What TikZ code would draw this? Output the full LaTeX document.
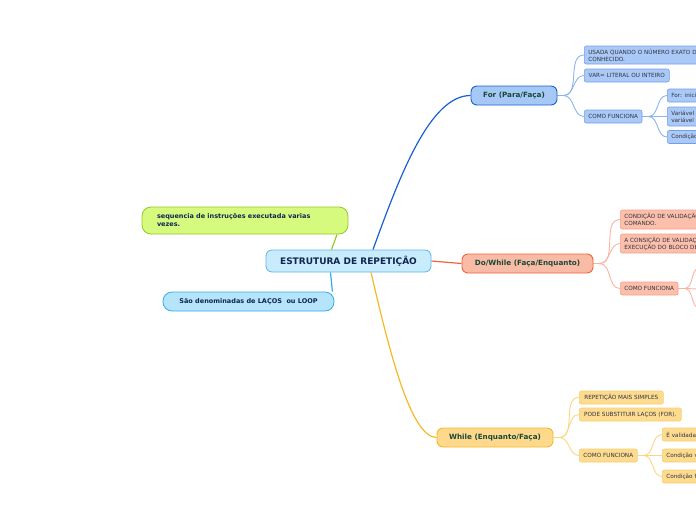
\documentclass[tikz,border=0pt]{standalone}
\usepackage{fontspec}
\setmainfont{DejaVu Sans}
\usetikzlibrary{positioning,backgrounds}
\definecolor{azulRaiz}{RGB}{200,236,252}
\definecolor{azulRaizB}{RGB}{90,180,235}
\definecolor{azulEscuro}{RGB}{16,38,80}
\definecolor{verdeTexto}{RGB}{24,72,56}
\definecolor{cinzaTexto}{RGB}{50,52,66}
\definecolor{verdeNota}{RGB}{214,250,126}
\definecolor{verdeNotaB}{RGB}{150,200,40}
\definecolor{azulNota}{RGB}{182,228,251}
\definecolor{azulNotaB}{RGB}{50,172,236}
\definecolor{azulFor}{RGB}{166,200,247}
\definecolor{azulForB}{RGB}{24,96,210}
\definecolor{azulFolha}{RGB}{170,201,246}
\definecolor{azulFolhaB}{RGB}{112,160,235}
\definecolor{azulGalho}{RGB}{140,180,240}
\definecolor{laranjaDo}{RGB}{249,187,166}
\definecolor{laranjaDoB}{RGB}{240,100,60}
\definecolor{laranjaFolha}{RGB}{251,191,171}
\definecolor{laranjaFolhaB}{RGB}{248,160,135}
\definecolor{laranjaGalho}{RGB}{250,180,160}
\definecolor{amareloWh}{RGB}{254,217,140}
\definecolor{amareloWhB}{RGB}{246,184,40}
\definecolor{amareloFolha}{RGB}{253,219,143}
\definecolor{amareloFolhaB}{RGB}{250,205,110}
\definecolor{amareloGalho}{RGB}{252,213,130}

\begin{document}
\begin{tikzpicture}[x=1pt,y=-1pt,
  raiz/.style={rounded corners=6pt, minimum width=165pt, minimum height=22pt,
               fill=azulRaiz, draw=azulRaizB, line width=0.8pt,
               font=\fontsize{9}{10}\selectfont\bfseries, text=azulEscuro},
  nota/.style={rounded corners=9pt, line width=0.8pt, align=left,
               font=\fontsize{6.5}{8}\selectfont\bfseries, text=azulEscuro},
  ramo/.style={rounded corners=6pt, minimum height=19pt, line width=0.9pt,
               font=\fontsize{7.2}{8}\selectfont\bfseries, text=verdeTexto},
  folha/.style={rounded corners=2pt, anchor=west, align=left, inner xsep=4pt,
                inner ysep=1pt, line width=0.6pt, text=cinzaTexto,
                font=\fontsize{5.7}{7}\selectfont},
  folhaFor/.style={folha, fill=azulFolha, draw=azulFolhaB},
  folhaDo/.style={folha, fill=laranjaFolha, draw=laranjaFolhaB},
  folhaWh/.style={folha, fill=amareloFolha, draw=amareloFolhaB},
  galho/.style={line width=0.9pt}]

  \useasboundingbox (0,0) rectangle (696,520);

  \node[raiz] (RAIZ) at (348.5,261) {ESTRUTURA DE REPETIÇÂO};

  \node[nota,fill=verdeNota,draw=verdeNotaB,minimum width=206pt,
        minimum height=27pt,text width=176pt,inner xsep=15pt]
    (SEQ) at (245,220.5) {sequencia de instruções executada varias\\vezes.};
  \node[nota,fill=azulNota,draw=azulNotaB,minimum width=171pt,
        minimum height=19pt,align=center]
    (LACO) at (248.5,301.5) {São denominadas de LAÇOS\ \ ou LOOP};

  \node[ramo,fill=azulFor,draw=azulForB,minimum width=86pt]
    (FOR) at (514,95.5) {For (Para/Faça)};
  \node[ramo,fill=laranjaDo,draw=laranjaDoB,minimum width=131pt]
    (DO) at (527.5,263.5) {Do/While (Faça/Enquanto)};
  \node[ramo,fill=amareloWh,draw=amareloWhB,minimum width=116pt]
    (WHILE) at (495,437.5) {While (Enquanto/Faça)};

  \node[folhaFor,text width=132pt,minimum height=18pt] (F1) at (584,55)
    {USADA QUANDO O NÚMERO EXATO DE\\CONHECIDO.};
  \node[folhaFor,minimum width=85pt,minimum height=13pt] (F2) at (584,75.5)
    {VAR= LITERAL OU INTEIRO};
  \node[folhaFor,minimum width=57pt,minimum height=13pt] (F3) at (584,116.5)
    {COMO FUNCIONA};
  \node[folhaFor,text width=52pt,minimum height=13pt] (F31) at (667,95.5)
    {For: inici};
  \node[folhaFor,text width=52pt,minimum height=19pt] (F32) at (667,116.5)
    {Variável\\variável};
  \node[folhaFor,text width=52pt,minimum height=13pt] (F33) at (667,137)
    {Condição};

  \node[folhaDo,text width=102pt,minimum height=19pt] (D1) at (620,219.5)
    {CONDIÇÃO DE VALIDAÇÃO\\COMANDO.};
  \node[folhaDo,text width=102pt,minimum height=19pt] (D2) at (620,243.5)
    {A CONSIÇÃO DE VALIDAÇÃO\\EXECUÇÃO DO BLOCO DE};
  \node[folhaDo,minimum width=57pt,minimum height=13pt] (D3) at (620,288.5)
    {COMO FUNCIONA};
  \coordinate (D31) at (700,268);
  \coordinate (D32) at (700,289);
  \coordinate (D33) at (700,308);

  \node[folhaWh,minimum width=84pt,minimum height=13pt] (W1) at (579,397.5)
    {REPETIÇÃO MAIS SIMPLES};
  \node[folhaWh,minimum width=102pt,minimum height=13pt] (W2) at (579,414.5)
    {PODE SUBSTITUIR LAÇOS (FOR).};
  \node[folhaWh,minimum width=58pt,minimum height=13pt] (W3) at (579,455.5)
    {COMO FUNCIONA};
  \node[folhaWh,text width=52pt,minimum height=13pt] (W31) at (662,434.5)
    {É validada};
  \node[folhaWh,text width=52pt,minimum height=13pt] (W32) at (662,455.5)
    {Condição v};
  \node[folhaWh,text width=52pt,minimum height=13pt] (W33) at (662,476.5)
    {Condição f};

  \begin{scope}[on background layer]
    \draw[line width=1.2pt,verdeNotaB] ([xshift=-17pt]RAIZ.north)--([xshift=92pt]SEQ.south);
    \draw[line width=1.2pt,azulNotaB] ([xshift=-18pt]RAIZ.south)--([xshift=-2pt]LACO.north east);
    \draw[line width=1.2pt,azulForB] ([xshift=24.5pt]RAIZ.north)
      .. controls (400,175) and (430,95.5) .. (FOR.west);
    \draw[line width=1.2pt,laranjaDoB] (RAIZ.east)--(DO.west);
    \draw[line width=1.2pt,amareloWhB] ([xshift=22.5pt]RAIZ.south)
      .. controls (388,345) and (410,437.5) .. (WHILE.west);

    \foreach \f in {F1,F2,F3}
      \draw[galho,azulGalho] (FOR.east)--++(6,0) to[out=0,in=180] (\f.west);
    \foreach \f in {F31,F32,F33}
      \draw[galho,azulGalho] (F3.east)--++(6,0) to[out=0,in=180] (\f.west);
    \foreach \f in {D1,D2,D3}
      \draw[galho,laranjaGalho] (DO.east)--++(6,0) to[out=0,in=180] (\f.west);
    \foreach \f in {D31,D32,D33}
      \draw[galho,laranjaGalho] (D3.east)--++(6,0) to[out=0,in=180] (\f);
    \foreach \f in {W1,W2,W3}
      \draw[galho,amareloGalho] (WHILE.east)--++(6,0) to[out=0,in=180] (\f.west);
    \foreach \f in {W31,W32,W33}
      \draw[galho,amareloGalho] (W3.east)--++(6,0) to[out=0,in=180] (\f.west);
  \end{scope}
\end{tikzpicture}
\end{document}
